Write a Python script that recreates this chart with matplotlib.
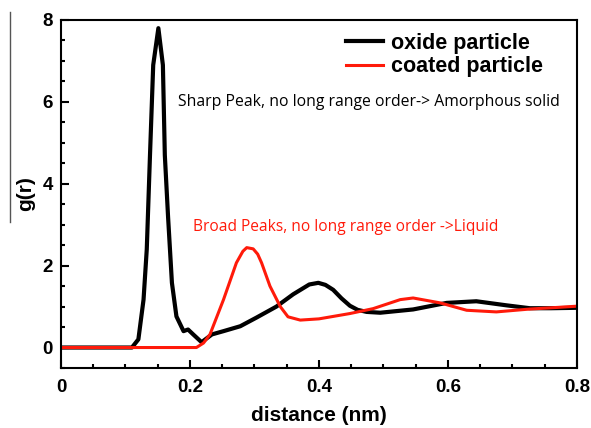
import matplotlib.pyplot as plt
from matplotlib.lines import Line2D
from matplotlib.ticker import MultipleLocator

# oxide particle g(r)
oxide_r = [0.0, 0.05, 0.11, 0.12, 0.128, 0.133, 0.138, 0.143, 0.151, 0.158, 0.161, 0.166,
           0.172, 0.179, 0.19, 0.197, 0.205, 0.218, 0.234, 0.252, 0.278, 0.303, 0.334,
           0.36, 0.385, 0.399, 0.41, 0.422, 0.435, 0.448, 0.46, 0.474, 0.495, 0.546,
           0.598, 0.644, 0.691, 0.727, 0.76, 0.8]
oxide_g = [0.0, 0.0, 0.0, 0.2, 1.17, 2.4, 4.7, 6.9, 7.8, 6.9, 4.7, 3.2,
           1.58, 0.76, 0.4, 0.44, 0.32, 0.13, 0.32, 0.4, 0.52, 0.73, 1.0,
           1.3, 1.54, 1.58, 1.53, 1.41, 1.2, 1.02, 0.92, 0.87, 0.85, 0.93,
           1.09, 1.13, 1.03, 0.96, 0.96, 0.97]

# coated particle g(r)
coated_r = [0.0, 0.1, 0.21, 0.221, 0.231, 0.252, 0.262, 0.272, 0.282, 0.288, 0.298,
            0.305, 0.311, 0.324, 0.34, 0.352, 0.371, 0.40, 0.448, 0.484, 0.526,
            0.546, 0.588, 0.629, 0.675, 0.727, 0.77, 0.8]
coated_g = [0.0, 0.0, 0.0, 0.11, 0.32, 1.17, 1.62, 2.07, 2.35, 2.44, 2.41,
            2.28, 2.07, 1.5, 1.0, 0.75, 0.67, 0.70, 0.83, 0.95, 1.17,
            1.21, 1.09, 0.91, 0.87, 0.94, 0.98, 1.01]

fig = plt.figure(figsize=(5.91, 4.28), dpi=100)
ax = fig.add_axes([0.1032, 0.1402, 0.873, 0.8131])

ax.plot(oxide_r, oxide_g, color='black', lw=3, label='oxide particle',
        solid_joinstyle='round')
ax.plot(coated_r, coated_g, color='#ff1a0a', lw=2.2, label='coated particle',
        solid_joinstyle='round')

ax.set_xlim(0, 0.8)
ax.set_ylim(-0.5, 8)
ax.xaxis.set_minor_locator(MultipleLocator(0.05))
ax.yaxis.set_minor_locator(MultipleLocator(0.5))
ax.tick_params(which='both', direction='in', top=False, right=False, width=1.5)
ax.tick_params(which='major', length=6)
ax.tick_params(which='minor', length=3)
ax.set_xticks([0, 0.2, 0.4, 0.6, 0.8], ['0', '0.2', '0.4', '0.6', '0.8'])
ax.set_yticks([0, 2, 4, 6, 8], ['0', '2', '4', '6', '8'])
for lbl in ax.get_xticklabels() + ax.get_yticklabels():
    lbl.set_fontfamily('Liberation Sans')
    lbl.set_fontweight('bold')
    lbl.set_fontsize(13.5)
ax.tick_params(axis='x', pad=8)
ax.tick_params(axis='y', pad=6)
for s in ax.spines.values():
    s.set_linewidth(1.5)

ax.set_xlabel('distance (nm)', fontfamily='Liberation Sans', fontweight='bold',
              fontsize=15, labelpad=7)
ax.set_ylabel('g(r)', fontfamily='Liberation Sans', fontweight='bold',
              fontsize=15, labelpad=5)

leg = ax.legend(loc='upper right', frameon=False, handlelength=1.7, handletextpad=0.4,
                borderaxespad=0.2, labelspacing=0.1, bbox_to_anchor=(0.96, 1.0),
                prop={'family': 'Liberation Sans', 'weight': 'bold', 'size': 15.5})

ax.text(0.181, 6.0, 'Sharp Peak, no long range order-> Amorphous solid',
        fontfamily='Open Sans', fontsize=11.3, color='black', va='center')
ax.text(0.204, 2.95, 'Broad Peaks, no long range order ->Liquid',
        fontfamily='Open Sans', fontsize=11.2, color='#ff1a0a', va='center')

fig.add_artist(Line2D([10 / 591, 10 / 591], [1 - 12 / 428, 1 - 222 / 428],
                      transform=fig.transFigure, color='#555555', lw=1))

fig.savefig('out.png', dpi=100)
